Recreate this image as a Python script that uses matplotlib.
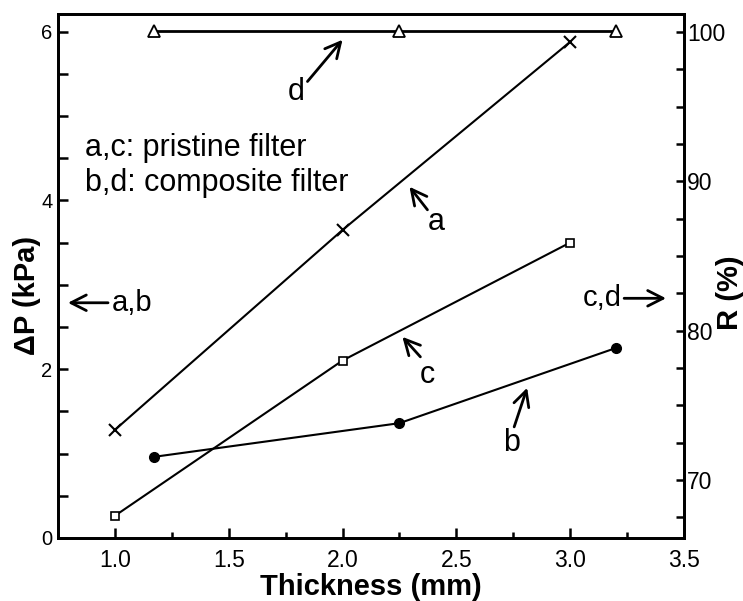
import matplotlib
matplotlib.use("Agg")
import matplotlib.pyplot as plt
from matplotlib.ticker import MultipleLocator

plt.rcParams['font.family'] = ['Liberation Sans', 'DejaVu Sans']

# data
# a: pressure drop, pristine filter (left axis)
a_x = [1.0, 2.0, 3.0]
a_y = [1.28, 3.65, 5.88]
# b: pressure drop, composite filter (left axis)
b_x = [1.17, 2.25, 3.2]
b_y = [0.96, 1.36, 2.25]
# c: removal efficiency, pristine filter (right axis)
c_x = [1.0, 2.0, 3.0]
c_y = [67.6, 78.0, 85.9]
# d: removal efficiency, composite filter (right axis)
d_x = [1.17, 2.25, 3.2]
d_y = [100.1, 100.1, 100.1]

fig = plt.figure(figsize=(7.43, 6.01), dpi=100)
ax = fig.add_axes([0.078, 0.105, 0.8426, 0.8717])
ax2 = ax.twinx()

ax.plot(a_x, a_y, color='black', lw=1.5, marker='x', ms=9, mew=1.5)
ax.plot(b_x, b_y, color='black', lw=1.5, marker='o', ms=7)
ax2.plot(c_x, c_y, color='black', lw=1.5, marker='s', ms=6, mfc='white', mew=1.2)
ax2.plot(d_x, d_y, color='black', lw=2.0, marker='^', ms=9, mfc='white', mew=1.3)

ax.set_xlim(0.75, 3.5)
ax.set_ylim(0, 6.21)
ax2.set_ylim(66.12, 101.21)

ax.xaxis.set_major_locator(MultipleLocator(0.5))
ax.xaxis.set_minor_locator(MultipleLocator(0.25))
ax.yaxis.set_major_locator(MultipleLocator(2))
ax.yaxis.set_minor_locator(MultipleLocator(0.5))
ax2.yaxis.set_major_locator(MultipleLocator(10))
ax2.yaxis.set_minor_locator(MultipleLocator(2.5))
ax.set_xticks([1.0, 1.5, 2.0, 2.5, 3.0, 3.5])
ax.set_xticklabels(['1.0', '1.5', '2.0', '2.5', '3.0', '3.5'])

ax.tick_params(axis='x', which='major', direction='in', length=7.5, width=1.8, labelsize=16.5, pad=8)
ax.tick_params(axis='x', which='minor', direction='in', length=4, width=1.8)
ax.tick_params(axis='y', which='both', direction='in', length=7.5, width=1.8, labelsize=14.5, pad=4)
ax2.tick_params(axis='y', which='both', direction='in', length=6, width=1.8, labelsize=16.5, pad=2)

for sp in list(ax.spines.values()) + list(ax2.spines.values()):
    sp.set_linewidth(2)

ax.set_xlabel('Thickness (mm)', fontsize=21, fontweight='bold', labelpad=1)
ax.set_ylabel('ΔP (kPa)', fontsize=21, fontweight='bold')
ax.yaxis.set_label_coords(-0.0495, 0.462)
ax.yaxis.label.set_va('center')
ax2.set_ylabel('R (%)', fontsize=21, fontweight='bold')
ax2.yaxis.set_label_coords(1.0735, 0.469)
ax2.yaxis.label.set_va('center')

ax.text(0.868, 4.625, 'a,c: pristine filter', fontsize=22, va='center', ha='left')
ax.text(0.868, 4.21, 'b,d: composite filter', fontsize=22, va='center', ha='left')

arrow = dict(arrowstyle='->,head_length=0.55,head_width=0.28', color='black', lw=2, mutation_scale=20,
             shrinkA=0, shrinkB=0)

# curve labels with arrows
ax.text(1.798, 5.29, 'd', fontsize=22, ha='center', va='center')
ax.annotate('', xy=(2.0, 5.905), xytext=(1.846, 5.41), arrowprops=arrow)
ax.text(2.412, 3.747, 'a', fontsize=22, ha='center', va='center')
ax.annotate('', xy=(2.294, 4.162), xytext=(2.373, 3.889), arrowprops=arrow)
ax.text(2.373, 1.933, 'c', fontsize=22, ha='center', va='center')
ax.annotate('', xy=(2.263, 2.383), xytext=(2.342, 2.146), arrowprops=arrow)
ax.text(2.741, 1.127, 'b', fontsize=22, ha='center', va='center')
ax.annotate('', xy=(2.811, 1.779), xytext=(2.754, 1.316), arrowprops=arrow)

# axis pointers
ax.annotate('', xy=(0.794, 2.787), xytext=(0.97, 2.787), arrowprops=arrow)
ax.text(0.987, 2.787, 'a,b', fontsize=21, ha='left', va='center')
ax.annotate('', xy=(3.421, 2.84), xytext=(3.237, 2.84), arrowprops=arrow)
ax.text(3.225, 2.84, 'c,d', fontsize=21, ha='right', va='center')

fig.savefig('out.png', dpi=100)
